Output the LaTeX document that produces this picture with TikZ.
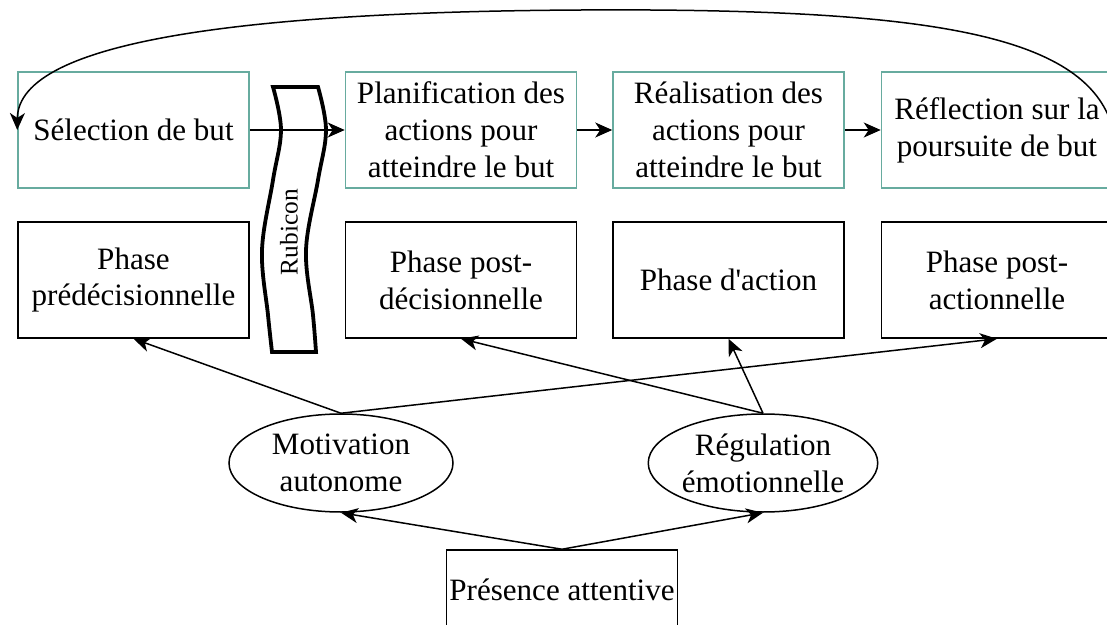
\documentclass[tikz,border=0pt]{standalone}
\usepackage{fontspec}
\setmainfont{Liberation Serif}[Ligatures=TeXOff]
\usetikzlibrary{shapes.geometric,arrows.meta}
\definecolor{tealline}{HTML}{67AB9F}
\tikzset{
  basebox/.style={rectangle, minimum width=231bp, minimum height=116bp, inner sep=0pt, align=center, line width=1.5bp, font=\fontsize{31.2}{37}\selectfont},
  goalbox/.style={basebox, draw=tealline},
  phasebox/.style={basebox, draw=black},
  ellnode/.style={ellipse, draw=black, line width=1.5bp, minimum width=224bp, minimum height=98bp, inner sep=0pt, align=center, font=\fontsize{31.2}{37}\selectfont},
  conn/.style={line width=1.5bp, -{Stealth[length=17bp, width=15bp, inset=5bp]}},
}
\begin{document}
\begin{tikzpicture}[x=1bp, y=-1bp]
\useasboundingbox (0,0) rectangle (1107,625);
% Rubicon tape
\path[draw=black, fill=white, line width=3.8bp, line join=miter]
  plot[smooth, tension=0.6] coordinates {(273,87) (281,130) (273,180) (262,250) (268,315) (272,352)}
  -- (316,352)
  -- plot[smooth, tension=0.6] coordinates {(316,352) (313,315) (306,250) (318,180) (326,130) (318,87)}
  -- cycle;
\node[rotate=90, font=\fontsize{25.5}{30}\selectfont] (rub) at (289,232) {Rubicon};
% goal boxes
\node[goalbox] (g1) at (133.5,130) {Sélection de but};
\node[goalbox] (g2) at (461,130) {Planification des\\actions pour\\atteindre le but};
\node[goalbox] (g3) at (728.5,130) {Réalisation des\\actions pour\\atteindre le but};
\node[goalbox] (g4) at (997,130) {Réflection sur la\\poursuite de but};
% phase boxes
\node[phasebox] (p1) at (133.5,280) {Phase\\prédécisionnelle};
\node[phasebox] (p2) at (461,280) {Phase post-\\décisionnelle};
\node[phasebox] (p3) at (728.5,280) {Phase d'action};
\node[phasebox] (p4) at (997,280) {Phase post-\\actionnelle};
% ellipses
\node[ellnode] (mot) at (341,463) {Motivation\\autonome};
\node[ellnode] (reg) at (763,463) {Régulation\\émotionnelle};
% presence
\node[basebox, draw=black, minimum height=80bp] (pres) at (562,590) {Présence attentive};
% connectors
\draw[conn] (g1.east) -- (g2.west);
\draw[conn] (g2.east) -- (g3.west);
\draw[conn] (g3.east) -- (g4.west);
\draw[conn] (mot.north) -- (p1.south);
\draw[conn] (mot.north) -- (p4.south);
\draw[conn] (reg.north) -- (p2.south);
\draw[conn] (reg.north) -- (p3.south);
\draw[conn] (pres.north) -- (mot.south);
\draw[conn] (pres.north) -- (reg.south);
\coordinate (loopR) at (g4.east);
\draw[conn] (loopR) .. controls (1090,40) and (950,12) .. (650,10)
  .. controls (250,8) and (18,40) .. (g1.west);
\end{tikzpicture}
\end{document}
